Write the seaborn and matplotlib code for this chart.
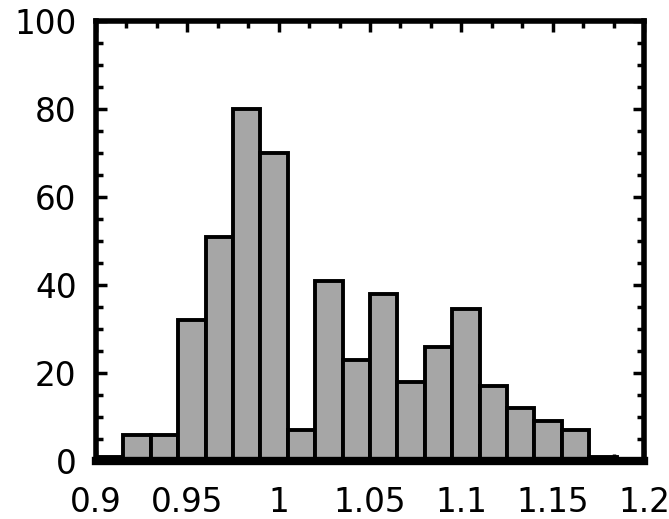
import numpy as np
import matplotlib
matplotlib.use("Agg")
import matplotlib.pyplot as plt
from matplotlib.ticker import MultipleLocator, FixedLocator
import seaborn as sns

# Data: 20 bins of width 0.015 from 0.9 to 1.2
bin_edges = [0.9, 0.915, 0.93, 0.945, 0.96, 0.975, 0.99, 1.005, 1.02, 1.035,
             1.05, 1.065, 1.08, 1.095, 1.11, 1.125, 1.14, 1.155, 1.17, 1.185, 1.2]
counts = [1, 6, 6, 32, 51, 80, 70, 7, 41, 23, 38, 18, 26, 34.5, 17, 12, 9, 7, 1, 0.5]
x_ticks = [0.9, 0.95, 1.0, 1.05, 1.1, 1.15, 1.2]
x_tick_labels = ["0.9", "0.95", "1", "1.05", "1.1", "1.15", "1.2"]
y_ticks = [0, 20, 40, 60, 80, 100]

sns.set_style("ticks")
plt.rcParams['font.family'] = ['DejaVu Sans']

fig = plt.figure(figsize=(6.69, 5.19), dpi=100)
ax = fig.add_axes([96/669, 1 - 461/519, (644-96)/669, (461-21)/519])

centers = [(a + b) / 2 for a, b in zip(bin_edges[:-1], bin_edges[1:])]
sns.histplot(x=centers, weights=counts, bins=bin_edges, ax=ax,
             color="#a6a6a6", edgecolor="black", linewidth=2.8, alpha=1.0)

ax.set_xlim(0.9, 1.2)
ax.set_ylim(0, 100)
ax.set_xlabel("")
ax.set_ylabel("")
ax.xaxis.set_major_locator(FixedLocator(x_ticks))
ax.set_xticklabels(x_tick_labels)
ax.xaxis.set_minor_locator(MultipleLocator(1/60))
ax.yaxis.set_major_locator(FixedLocator(y_ticks))
ax.yaxis.set_minor_locator(MultipleLocator(5))

for s in ax.spines.values():
    s.set_linewidth(4)
    s.set_color("black")
    s.set_visible(True)
ax.spines['bottom'].set_linewidth(6)

ax.tick_params(which="both", direction="in", top=True, right=True, color="black",
               labelcolor="black")
ax.tick_params(which="major", length=8, width=2.5)
ax.tick_params(which="minor", length=5, width=2.5)
ax.tick_params(axis="x", which="major", labelsize=23.5, pad=18)
ax.tick_params(axis="y", which="major", labelsize=23.5, pad=14)

fig.savefig("out.png", dpi=100, facecolor="white")
